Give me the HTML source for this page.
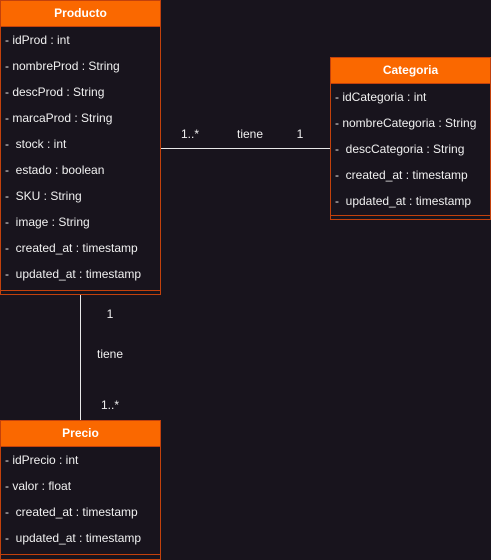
<!DOCTYPE html>
<html><head><style>
body{margin:0;width:491px;height:559px;background:#18141d;font-family:"Liberation Sans",sans-serif;color:#f0f0f0;position:relative;overflow:hidden}
.b{position:absolute;border:1px solid #c2410c;box-sizing:border-box}
.h{height:25px;background:#fa6800;color:#fff;font-weight:bold;font-size:12px;text-align:center;line-height:25px;border-bottom:1px solid #c2410c}
.r{height:26px;line-height:26px;font-size:12px;padding-left:4px;white-space:nowrap}
.s{position:absolute;left:0;right:0;height:1px;background:#c2410c}
.t{position:absolute;font-size:12px;transform:translate(-50%,-50%)}
</style></head><body>
<div class="b" style="left:0;top:0;width:161px;height:295px">
<div class="h">Producto</div>
<div class="r">- idProd : int</div>
<div class="r">- nombreProd : String</div>
<div class="r">- descProd : String</div>
<div class="r">- marcaProd : String</div>
<div class="r">-&nbsp; stock : int</div>
<div class="r">-&nbsp; estado : boolean</div>
<div class="r">-&nbsp; SKU : String</div>
<div class="r">-&nbsp; image : String</div>
<div class="r">-&nbsp; created_at : timestamp</div>
<div class="r">-&nbsp; updated_at : timestamp</div>
<div class="s" style="top:289px"></div>
</div>
<div class="b" style="left:330px;top:57px;width:161px;height:163px">
<div class="h">Categoria</div>
<div class="r">- idCategoria : int</div>
<div class="r">- nombreCategoria : String</div>
<div class="r">-&nbsp; descCategoria : String</div>
<div class="r">-&nbsp; created_at : timestamp</div>
<div class="r">-&nbsp; updated_at : timestamp</div>
<div class="s" style="top:157px"></div>
</div>
<div class="b" style="left:0;top:420px;width:161px;height:140px">
<div class="h">Precio</div>
<div class="r">- idPrecio : int</div>
<div class="r">- valor : float</div>
<div class="r">-&nbsp; created_at : timestamp</div>
<div class="r">-&nbsp; updated_at : timestamp</div>
<div class="s" style="top:133px"></div>
</div>
<div style="position:absolute;left:161px;top:148px;width:169px;height:1px;background:#e8e8e8"></div>
<div style="position:absolute;left:80px;top:295px;width:1px;height:125px;background:#e8e8e8"></div>
<div class="t" style="left:190px;top:134px">1..*</div>
<div class="t" style="left:250px;top:134px">tiene</div>
<div class="t" style="left:300px;top:134px">1</div>
<div class="t" style="left:110px;top:314px">1</div>
<div class="t" style="left:110px;top:354px">tiene</div>
<div class="t" style="left:110px;top:405px">1..*</div>
</body></html>
